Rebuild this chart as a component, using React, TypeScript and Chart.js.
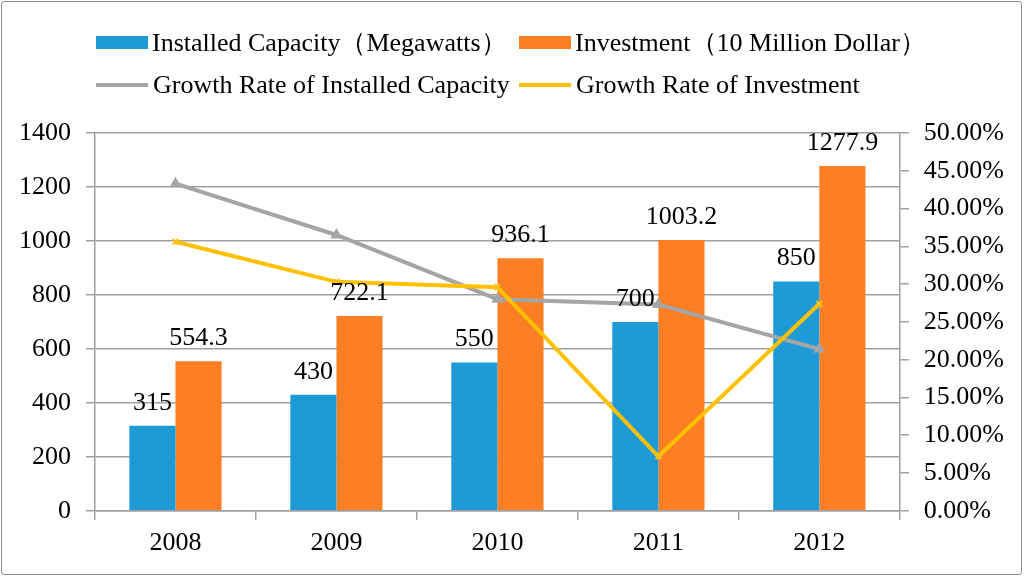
import { useEffect, useRef } from "react";
import { Chart, registerables } from "chart.js";

Chart.register(...registerables);

const FONT = '"Liberation Serif", "Times New Roman", serif';
const GRID = "#a0a0a0";

const years = ["2008", "2009", "2010", "2011", "2012"];
const capacity = [315, 430, 550, 700, 850];
const investment = [554.3, 722.1, 936.1, 1003.2, 1277.9];
const capacityGrowth = [43.3, 36.5, 28.0, 27.3, 21.4];
const investmentGrowth = [35.6, 30.3, 29.6, 7.2, 27.4];

const seriesNames = [
  "Installed Capacity（Megawatts）",
  "Investment（10 Million Dollar）",
  "Growth Rate of Installed Capacity",
  "Growth Rate of Investment",
];
const seriesColors = ["#1e9bd7", "#fd7f23", "#a5a5a5", "#ffc000"];

const barLabels = {
  id: "barLabels",
  afterDatasetsDraw(chart: Chart) {
    const ctx = chart.ctx;
    ctx.save();
    ctx.font = `26px ${FONT}`;
    ctx.fillStyle = "#000";
    ctx.textAlign = "center";
    ctx.textBaseline = "middle";
    [0, 1].forEach((di) => {
      const meta = chart.getDatasetMeta(di);
      meta.data.forEach((bar: any, i: number) => {
        const v = chart.data.datasets[di].data[i] as number;
        ctx.fillText(String(v), bar.x, bar.y - 23);
      });
    });
    ctx.restore();
  },
};

function Legend() {
  const items = [
    { left: 96, top: 42, kind: "box" },
    { left: 519, top: 42, kind: "box" },
    { left: 96, top: 85, kind: "line" },
    { left: 519, top: 85, kind: "line" },
  ];
  return (
    <>
      {items.map((it, i) => (
        <div
          key={i}
          style={{
            position: "absolute",
            left: it.left,
            top: it.top - 15,
            height: 30,
            display: "flex",
            alignItems: "center",
            fontFamily: FONT,
            fontSize: 26,
            color: "#000",
            whiteSpace: "nowrap",
          }}
        >
          <span
            style={{
              display: "inline-block",
              width: 52,
              height: it.kind === "box" ? 13 : 4,
              background: seriesColors[i],
              marginRight: it.kind === "box" ? 4 : 5,
            }}
          />
          {seriesNames[i]}
        </div>
      ))}
    </>
  );
}

export default function App() {
  const canvasRef = useRef<HTMLCanvasElement>(null);

  useEffect(() => {
    if (!canvasRef.current) return;
    const font = { family: FONT, size: 26 };
    const chart = new Chart(canvasRef.current, {
      type: "bar",
      data: {
        labels: years,
        datasets: [
          {
            type: "bar",
            label: seriesNames[0],
            data: capacity,
            backgroundColor: seriesColors[0],
            yAxisID: "y",
            order: 2,
            categoryPercentage: 0.573,
            barPercentage: 1,
          },
          {
            type: "bar",
            label: seriesNames[1],
            data: investment,
            backgroundColor: seriesColors[1],
            yAxisID: "y",
            order: 3,
            categoryPercentage: 0.573,
            barPercentage: 1,
          },
          {
            type: "line",
            label: seriesNames[2],
            data: capacityGrowth,
            borderColor: seriesColors[2],
            backgroundColor: seriesColors[2],
            borderWidth: 4,
            pointStyle: "triangle",
            pointRadius: 3,
            yAxisID: "y1",
            order: 1,
          },
          {
            type: "line",
            label: seriesNames[3],
            data: investmentGrowth,
            borderColor: seriesColors[3],
            backgroundColor: seriesColors[3],
            borderWidth: 4,
            pointStyle: "crossRot",
            pointRadius: 4,
            pointBorderWidth: 2,
            yAxisID: "y1",
            order: 0,
          },
        ],
      },
      options: {
        animation: false,
        responsive: false,
        layout: { padding: { top: 133, left: 4, right: 5, bottom: 10 } },
        plugins: { legend: { display: false }, tooltip: { enabled: false } },
        scales: {
          x: {
            grid: { drawOnChartArea: false, tickLength: 9, color: GRID, lineWidth: 1.5, offset: true },
            border: { color: GRID, width: 1.5 },
            ticks: { font, color: "#000", padding: 8 },
          },
          y: {
            position: "left",
            min: 0,
            max: 1400,
            ticks: { stepSize: 200, font, color: "#000", padding: 15, callback: (v) => String(v) },
            grid: { color: GRID, lineWidth: 1.5, tickLength: 9 },
            border: { color: GRID, width: 1.5 },
          },
          y1: {
            position: "right",
            min: 0,
            max: 50,
            ticks: {
              stepSize: 5,
              font,
              color: "#000",
              padding: 15,
              callback: (v) => Number(v).toFixed(2) + "%",
            },
            grid: { drawOnChartArea: false, color: GRID, lineWidth: 1.5, tickLength: 9 },
            border: { color: GRID, width: 1.5 },
          },
        },
      },
      plugins: [barLabels],
    });
    return () => chart.destroy();
  }, []);

  return (
    <div style={{ position: "fixed", left: 0, top: 0, width: 1024, height: 577, background: "#fff" }}>
      <div
        style={{
          position: "absolute",
          left: 1,
          top: 1,
          width: 1019,
          height: 572,
          border: "1.5px solid #8c8c8c",
          borderRadius: 3,
        }}
      />
      <canvas ref={canvasRef} width={1024} height={577} style={{ position: "absolute", left: 0, top: 0 }} />
      <Legend />
    </div>
  );
}
